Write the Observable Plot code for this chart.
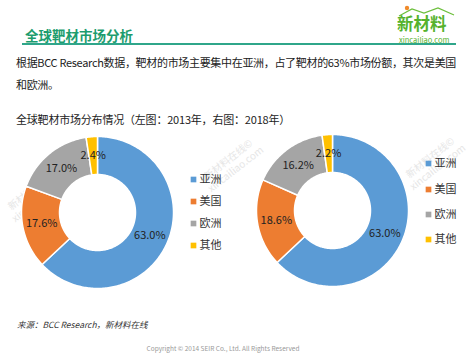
<!DOCTYPE html>
<html><head><meta charset="utf-8">
<script src="https://cdn.jsdelivr.net/npm/d3@7"></script>
<script src="https://cdn.jsdelivr.net/npm/@observablehq/plot@0.6"></script>
<style>
html,body{margin:0;padding:0;background:#fff;}
#page{position:relative;width:474px;height:355px;overflow:hidden;font-family:"Noto Sans CJK SC","Noto Sans",sans-serif;color:#222;}
.abs{position:absolute;white-space:nowrap;}
.wm{position:absolute;color:#e6e6e6;font-size:10px;line-height:12px;transform:rotate(-38deg);transform-origin:center;white-space:nowrap;text-align:center;}
</style></head>
<body><div id="page">
<div class="abs" style="left:25px;top:26px;font-size:13.5px;font-weight:bold;color:#1d9c6e;line-height:18px;">全球靶材市场分析</div>
<div class="abs" style="left:22px;top:43px;width:434px;height:2px;background:#2fa68a;"></div>
<svg class="abs" style="left:396px;top:3px;" width="62" height="14"><circle cx="11" cy="5" r="2.2" fill="#f08a2a"/><polyline points="3,13 16,6 28,10 42,5 58,12" fill="none" stroke="#6cbf3c" stroke-width="1.2"/></svg>
<div class="abs" style="left:397px;top:14px;font-size:16.5px;font-weight:bold;color:#55b22c;line-height:18px;">新材料</div>
<div class="abs" style="left:399px;top:36px;font-size:7.5px;color:#55b22c;line-height:8px;">xincailiao.com</div>
<div class="abs" style="left:16px;top:54px;font-size:11px;letter-spacing:-0.32px;line-height:16px;">根据BCC Research数据，靶材的市场主要集中在亚洲，占了靶材的63%市场份额，其次是美国</div>
<div class="abs" style="left:16px;top:76px;font-size:11px;letter-spacing:-0.32px;line-height:16px;">和欧洲。</div>
<div class="abs" style="left:16px;top:111px;font-size:11px;letter-spacing:-0.2px;line-height:16px;">全球靶材市场分布情况（左图：2013年，右图：2018年）</div>
<div class="wm" style="left:2px;top:182px;">新材料在线©<br>xincailiao.com</div>
<div class="wm" style="left:198px;top:152px;">新材料在线©<br>xincailiao.com</div>
<div class="wm" style="left:400px;top:150px;">新材料在线©<br>xincailiao.com</div>
<div id="chart" class="abs" style="left:0;top:125px;"></div>
<div class="abs" style="left:17px;top:318px;font-size:8.5px;font-style:italic;line-height:12px;color:#333;">来源：BCC Research，新材料在线</div>
<div class="abs" style="left:0;width:446px;text-align:center;top:344px;font-size:6.5px;line-height:9px;color:#999;">Copyright © 2014 SEIR Co., Ltd. All Rights Reserved</div>
</div>
<script>
const regions = ["亚洲", "美国", "欧洲", "其他"];
const share2013 = [63.0, 17.6, 17.0, 2.4];
const share2018 = [63.0, 18.6, 16.2, 2.2];
const years = ["2013", "2018"];
const regionColors = ["#5B9BD5", "#ED7D31", "#A5A5A5", "#FFC000"];

// layout (pixels within the chart svg)
const W = 474, H = 180;
const donuts = [
  {year: years[0], values: share2013, cx: 97, cy: 87, legendX: 193, legendY: [54, 76, 98, 120]},
  {year: years[1], values: share2018, cx: 332, cy: 85, legendX: 428, legendY: [38, 64, 89, 114]}
];
const rOuter = 76, rInner = 38;

const pt = (d, r, a) => ({x: d.cx + r * Math.sin(a), y: d.cy - r * Math.cos(a)});
const polys = [], labels = [], legend = [];
for (const d of donuts) {
  const total = d3.sum(d.values);
  let acc = 0;
  d.values.forEach((v, i) => {
    const a0 = acc / total * 2 * Math.PI, a1 = (acc + v) / total * 2 * Math.PI;
    acc += v;
    const n = Math.max(2, Math.ceil((a1 - a0) / (Math.PI / 180)));
    const key = d.year + "-" + regions[i];
    for (let k = 0; k <= n; k++) polys.push({key, region: regions[i], ...pt(d, rOuter, a0 + (a1 - a0) * k / n)});
    for (let k = n; k >= 0; k--) polys.push({key, region: regions[i], ...pt(d, rInner, a0 + (a1 - a0) * k / n)});
    const am = (a0 + a1) / 2;
    labels.push({text: v.toFixed(1) + "%", ...pt(d, (rOuter + rInner) / 2, am)});
    legend.push({region: regions[i], x: d.legendX, y: d.legendY[i]});
  });
}

const chart = Plot.plot({
  width: W, height: H,
  margin: 0,
  x: {domain: [0, W], range: [0, W], axis: null},
  y: {domain: [0, H], range: [0, H], axis: null},
  color: {domain: regions, range: regionColors},
  style: {fontFamily: '"Noto Sans CJK SC","Noto Sans",sans-serif', background: "transparent"},
  marks: [
    Plot.line(polys, {x: "x", y: "y", z: "key", fill: "region", stroke: "#fff", strokeWidth: 1.5, curve: "linear-closed"}),
    Plot.text(labels, {x: "x", y: "y", text: "text", fontSize: 11, fill: "#222"}),
    Plot.dot(legend, {x: "x", y: "y", symbol: "square", r: 3.2, fill: "region", stroke: null}),
    Plot.text(legend, {x: "x", y: "y", text: "region", dx: 6, textAnchor: "start", fontSize: 11, fill: "#333"})
  ]
});
document.getElementById("chart").appendChild(chart);
</script>
</body></html>
